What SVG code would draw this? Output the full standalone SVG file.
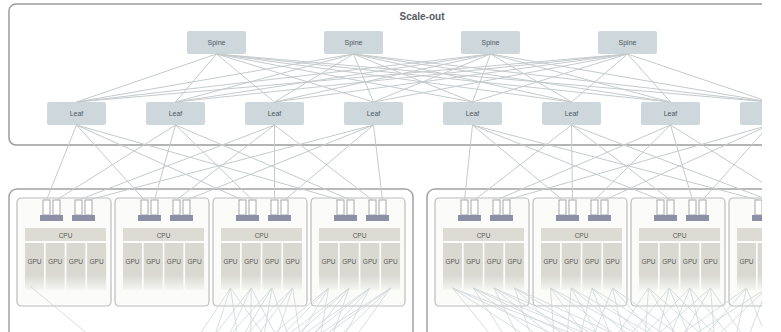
<svg xmlns="http://www.w3.org/2000/svg" width="781" height="332" viewBox="0 0 781 332">
<style>
.box{fill:#ffffff;stroke:#9c9c9c;stroke-width:1.5}
.pod{fill:#ffffff;stroke:#a2a2a2;stroke-width:1.5}
.srv{fill:#fbfbfa;stroke:#bdbdbd;stroke-width:1.2}
.sw{fill:#cdd7dc}
.swt{font-family:"Liberation Sans",Arial,sans-serif;font-size:7px;fill:#4e5a63;text-anchor:middle}
.title{font-family:"Liberation Sans",Arial,sans-serif;font-size:10px;font-weight:bold;fill:#555b5f;text-anchor:middle}
.nic{fill:#8e90a8}
.port{fill:#ffffff;stroke:#a8a8a8;stroke-width:1}
.cpu{fill:#dcdcd5}
.gpu{fill:url(#gfade)}
.t{font-family:"Liberation Sans",Arial,sans-serif;font-size:6.5px;fill:#5a5a55;text-anchor:middle}
.c line{stroke:#c5cacc;stroke-width:1}
.m line{stroke:#cfd6d8;stroke-width:0.8}
</style>
<defs>
<linearGradient id="gfade" x1="0" y1="0" x2="0" y2="1">
<stop offset="0" stop-color="#d9d9d2"/>
<stop offset="0.68" stop-color="#d9d9d2"/>
<stop offset="1" stop-color="#f5f5f2"/>
</linearGradient>
<clipPath id="crop"><rect x="0" y="0" width="762" height="332"/></clipPath>
</defs>
<rect x="0" y="0" width="781" height="332" fill="#ffffff"/>
<g clip-path="url(#crop)">
<g id="scale-out">
<rect class="box" x="9" y="4" width="830" height="141" rx="7"/>
<text class="title" x="422" y="19.5">Scale-out</text>
</g>
<g id="pod-left"><rect class="pod" x="9" y="189" width="404" height="160" rx="8"/></g>
<g id="pod-right"><rect class="pod" x="427" y="189" width="404" height="160" rx="8"/></g>

<g id="spine1"><rect class="sw" x="187" y="31" width="59" height="23" rx="2"/><text class="swt" x="216.5" y="45">Spine</text></g>
<g id="spine2"><rect class="sw" x="324" y="31" width="59" height="23" rx="2"/><text class="swt" x="353.5" y="45">Spine</text></g>
<g id="spine3"><rect class="sw" x="461" y="31" width="59" height="23" rx="2"/><text class="swt" x="490.5" y="45">Spine</text></g>
<g id="spine4"><rect class="sw" x="598" y="31" width="59" height="23" rx="2"/><text class="swt" x="627.5" y="45">Spine</text></g>

<g id="leaf1"><rect class="sw" x="47" y="102" width="59" height="23" rx="2"/><text class="swt" x="76.5" y="116">Leaf</text></g>
<g id="leaf2"><rect class="sw" x="146" y="102" width="59" height="23" rx="2"/><text class="swt" x="175.5" y="116">Leaf</text></g>
<g id="leaf3"><rect class="sw" x="245" y="102" width="59" height="23" rx="2"/><text class="swt" x="274.5" y="116">Leaf</text></g>
<g id="leaf4"><rect class="sw" x="344" y="102" width="59" height="23" rx="2"/><text class="swt" x="373.5" y="116">Leaf</text></g>
<g id="leaf5"><rect class="sw" x="443" y="102" width="59" height="23" rx="2"/><text class="swt" x="472.5" y="116">Leaf</text></g>
<g id="leaf6"><rect class="sw" x="542" y="102" width="59" height="23" rx="2"/><text class="swt" x="571.5" y="116">Leaf</text></g>
<g id="leaf7"><rect class="sw" x="641" y="102" width="59" height="23" rx="2"/><text class="swt" x="670.5" y="116">Leaf</text></g>
<g id="leaf8"><rect class="sw" x="740" y="102" width="59" height="23" rx="2"/></g>

<g id="server-L1" transform="translate(17,198)">
<rect class="srv" x="0" y="0" width="94" height="108" rx="4"/>
<rect class="port" x="26" y="2" width="7" height="15"/><rect class="port" x="36" y="2" width="7" height="15"/><rect class="nic" x="23" y="17" width="23" height="6"/>
<rect class="port" x="58" y="2" width="7" height="15"/><rect class="port" x="68" y="2" width="7" height="15"/><rect class="nic" x="55" y="17" width="23" height="6"/>
<rect class="cpu" x="8" y="30" width="81" height="13"/><text class="t" x="48.5" y="39.5">CPU</text>
<rect class="gpu" x="8" y="45" width="19" height="47"/><rect class="gpu" x="28.7" y="45" width="19" height="47"/><rect class="gpu" x="49.4" y="45" width="19" height="47"/><rect class="gpu" x="70.1" y="45" width="19" height="47"/>
<text class="t" x="17.5" y="66">GPU</text><text class="t" x="38.2" y="66">GPU</text><text class="t" x="58.9" y="66">GPU</text><text class="t" x="79.6" y="66">GPU</text>
</g>
<g id="server-L2" transform="translate(115,198)">
<rect class="srv" x="0" y="0" width="94" height="108" rx="4"/>
<rect class="port" x="26" y="2" width="7" height="15"/><rect class="port" x="36" y="2" width="7" height="15"/><rect class="nic" x="23" y="17" width="23" height="6"/>
<rect class="port" x="58" y="2" width="7" height="15"/><rect class="port" x="68" y="2" width="7" height="15"/><rect class="nic" x="55" y="17" width="23" height="6"/>
<rect class="cpu" x="8" y="30" width="81" height="13"/><text class="t" x="48.5" y="39.5">CPU</text>
<rect class="gpu" x="8" y="45" width="19" height="47"/><rect class="gpu" x="28.7" y="45" width="19" height="47"/><rect class="gpu" x="49.4" y="45" width="19" height="47"/><rect class="gpu" x="70.1" y="45" width="19" height="47"/>
<text class="t" x="17.5" y="66">GPU</text><text class="t" x="38.2" y="66">GPU</text><text class="t" x="58.9" y="66">GPU</text><text class="t" x="79.6" y="66">GPU</text>
</g>
<g id="server-L3" transform="translate(213,198)">
<rect class="srv" x="0" y="0" width="94" height="108" rx="4"/>
<rect class="port" x="26" y="2" width="7" height="15"/><rect class="port" x="36" y="2" width="7" height="15"/><rect class="nic" x="23" y="17" width="23" height="6"/>
<rect class="port" x="58" y="2" width="7" height="15"/><rect class="port" x="68" y="2" width="7" height="15"/><rect class="nic" x="55" y="17" width="23" height="6"/>
<rect class="cpu" x="8" y="30" width="81" height="13"/><text class="t" x="48.5" y="39.5">CPU</text>
<rect class="gpu" x="8" y="45" width="19" height="47"/><rect class="gpu" x="28.7" y="45" width="19" height="47"/><rect class="gpu" x="49.4" y="45" width="19" height="47"/><rect class="gpu" x="70.1" y="45" width="19" height="47"/>
<text class="t" x="17.5" y="66">GPU</text><text class="t" x="38.2" y="66">GPU</text><text class="t" x="58.9" y="66">GPU</text><text class="t" x="79.6" y="66">GPU</text>
</g>
<g id="server-L4" transform="translate(311,198)">
<rect class="srv" x="0" y="0" width="94" height="108" rx="4"/>
<rect class="port" x="26" y="2" width="7" height="15"/><rect class="port" x="36" y="2" width="7" height="15"/><rect class="nic" x="23" y="17" width="23" height="6"/>
<rect class="port" x="58" y="2" width="7" height="15"/><rect class="port" x="68" y="2" width="7" height="15"/><rect class="nic" x="55" y="17" width="23" height="6"/>
<rect class="cpu" x="8" y="30" width="81" height="13"/><text class="t" x="48.5" y="39.5">CPU</text>
<rect class="gpu" x="8" y="45" width="19" height="47"/><rect class="gpu" x="28.7" y="45" width="19" height="47"/><rect class="gpu" x="49.4" y="45" width="19" height="47"/><rect class="gpu" x="70.1" y="45" width="19" height="47"/>
<text class="t" x="17.5" y="66">GPU</text><text class="t" x="38.2" y="66">GPU</text><text class="t" x="58.9" y="66">GPU</text><text class="t" x="79.6" y="66">GPU</text>
</g>
<g id="server-R1" transform="translate(435,198)">
<rect class="srv" x="0" y="0" width="94" height="108" rx="4"/>
<rect class="port" x="26" y="2" width="7" height="15"/><rect class="port" x="36" y="2" width="7" height="15"/><rect class="nic" x="23" y="17" width="23" height="6"/>
<rect class="port" x="58" y="2" width="7" height="15"/><rect class="port" x="68" y="2" width="7" height="15"/><rect class="nic" x="55" y="17" width="23" height="6"/>
<rect class="cpu" x="8" y="30" width="81" height="13"/><text class="t" x="48.5" y="39.5">CPU</text>
<rect class="gpu" x="8" y="45" width="19" height="47"/><rect class="gpu" x="28.7" y="45" width="19" height="47"/><rect class="gpu" x="49.4" y="45" width="19" height="47"/><rect class="gpu" x="70.1" y="45" width="19" height="47"/>
<text class="t" x="17.5" y="66">GPU</text><text class="t" x="38.2" y="66">GPU</text><text class="t" x="58.9" y="66">GPU</text><text class="t" x="79.6" y="66">GPU</text>
</g>
<g id="server-R2" transform="translate(533,198)">
<rect class="srv" x="0" y="0" width="94" height="108" rx="4"/>
<rect class="port" x="26" y="2" width="7" height="15"/><rect class="port" x="36" y="2" width="7" height="15"/><rect class="nic" x="23" y="17" width="23" height="6"/>
<rect class="port" x="58" y="2" width="7" height="15"/><rect class="port" x="68" y="2" width="7" height="15"/><rect class="nic" x="55" y="17" width="23" height="6"/>
<rect class="cpu" x="8" y="30" width="81" height="13"/><text class="t" x="48.5" y="39.5">CPU</text>
<rect class="gpu" x="8" y="45" width="19" height="47"/><rect class="gpu" x="28.7" y="45" width="19" height="47"/><rect class="gpu" x="49.4" y="45" width="19" height="47"/><rect class="gpu" x="70.1" y="45" width="19" height="47"/>
<text class="t" x="17.5" y="66">GPU</text><text class="t" x="38.2" y="66">GPU</text><text class="t" x="58.9" y="66">GPU</text><text class="t" x="79.6" y="66">GPU</text>
</g>
<g id="server-R3" transform="translate(631,198)">
<rect class="srv" x="0" y="0" width="94" height="108" rx="4"/>
<rect class="port" x="26" y="2" width="7" height="15"/><rect class="port" x="36" y="2" width="7" height="15"/><rect class="nic" x="23" y="17" width="23" height="6"/>
<rect class="port" x="58" y="2" width="7" height="15"/><rect class="port" x="68" y="2" width="7" height="15"/><rect class="nic" x="55" y="17" width="23" height="6"/>
<rect class="cpu" x="8" y="30" width="81" height="13"/><text class="t" x="48.5" y="39.5">CPU</text>
<rect class="gpu" x="8" y="45" width="19" height="47"/><rect class="gpu" x="28.7" y="45" width="19" height="47"/><rect class="gpu" x="49.4" y="45" width="19" height="47"/><rect class="gpu" x="70.1" y="45" width="19" height="47"/>
<text class="t" x="17.5" y="66">GPU</text><text class="t" x="38.2" y="66">GPU</text><text class="t" x="58.9" y="66">GPU</text><text class="t" x="79.6" y="66">GPU</text>
</g>
<g id="server-R4" transform="translate(729,198)">
<rect class="srv" x="0" y="0" width="94" height="108" rx="4"/>
<rect class="port" x="26" y="2" width="7" height="15"/><rect class="port" x="36" y="2" width="7" height="15"/><rect class="nic" x="23" y="17" width="23" height="6"/>
<rect class="port" x="58" y="2" width="7" height="15"/><rect class="port" x="68" y="2" width="7" height="15"/><rect class="nic" x="55" y="17" width="23" height="6"/>
<rect class="cpu" x="8" y="30" width="81" height="13"/>
<rect class="gpu" x="8" y="45" width="19" height="47"/><rect class="gpu" x="28.7" y="45" width="19" height="47"/><rect class="gpu" x="49.4" y="45" width="19" height="47"/><rect class="gpu" x="70.1" y="45" width="19" height="47"/>
<text class="t" x="17.5" y="66">GPU</text>
</g>

<g id="connectors">
<g class="c">
<line x1="216.5" y1="54" x2="76.5" y2="102"/><line x1="216.5" y1="54" x2="175.5" y2="102"/><line x1="216.5" y1="54" x2="274.5" y2="102"/><line x1="216.5" y1="54" x2="373.5" y2="102"/><line x1="216.5" y1="54" x2="472.5" y2="102"/><line x1="216.5" y1="54" x2="571.5" y2="102"/><line x1="216.5" y1="54" x2="670.5" y2="102"/><line x1="216.5" y1="54" x2="769.5" y2="102"/>
<line x1="353.5" y1="54" x2="76.5" y2="102"/><line x1="353.5" y1="54" x2="175.5" y2="102"/><line x1="353.5" y1="54" x2="274.5" y2="102"/><line x1="353.5" y1="54" x2="373.5" y2="102"/><line x1="353.5" y1="54" x2="472.5" y2="102"/><line x1="353.5" y1="54" x2="571.5" y2="102"/><line x1="353.5" y1="54" x2="670.5" y2="102"/><line x1="353.5" y1="54" x2="769.5" y2="102"/>
<line x1="490.5" y1="54" x2="76.5" y2="102"/><line x1="490.5" y1="54" x2="175.5" y2="102"/><line x1="490.5" y1="54" x2="274.5" y2="102"/><line x1="490.5" y1="54" x2="373.5" y2="102"/><line x1="490.5" y1="54" x2="472.5" y2="102"/><line x1="490.5" y1="54" x2="571.5" y2="102"/><line x1="490.5" y1="54" x2="670.5" y2="102"/><line x1="490.5" y1="54" x2="769.5" y2="102"/>
<line x1="627.5" y1="54" x2="76.5" y2="102"/><line x1="627.5" y1="54" x2="175.5" y2="102"/><line x1="627.5" y1="54" x2="274.5" y2="102"/><line x1="627.5" y1="54" x2="373.5" y2="102"/><line x1="627.5" y1="54" x2="472.5" y2="102"/><line x1="627.5" y1="54" x2="571.5" y2="102"/><line x1="627.5" y1="54" x2="670.5" y2="102"/><line x1="627.5" y1="54" x2="769.5" y2="102"/>

<line x1="76.5" y1="125" x2="46.5" y2="200"/><line x1="76.5" y1="125" x2="144.5" y2="200"/><line x1="76.5" y1="125" x2="242.5" y2="200"/><line x1="76.5" y1="125" x2="340.5" y2="200"/>
<line x1="175.5" y1="125" x2="56.5" y2="200"/><line x1="175.5" y1="125" x2="154.5" y2="200"/><line x1="175.5" y1="125" x2="252.5" y2="200"/><line x1="175.5" y1="125" x2="350.5" y2="200"/>
<line x1="274.5" y1="125" x2="78.5" y2="200"/><line x1="274.5" y1="125" x2="176.5" y2="200"/><line x1="274.5" y1="125" x2="274.5" y2="200"/><line x1="274.5" y1="125" x2="372.5" y2="200"/>
<line x1="373.5" y1="125" x2="88.5" y2="200"/><line x1="373.5" y1="125" x2="186.5" y2="200"/><line x1="373.5" y1="125" x2="284.5" y2="200"/><line x1="373.5" y1="125" x2="382.5" y2="200"/>
<line x1="472.5" y1="125" x2="464.5" y2="200"/><line x1="472.5" y1="125" x2="562.5" y2="200"/><line x1="472.5" y1="125" x2="660.5" y2="200"/><line x1="472.5" y1="125" x2="758.5" y2="200"/>
<line x1="571.5" y1="125" x2="474.5" y2="200"/><line x1="571.5" y1="125" x2="572.5" y2="200"/><line x1="571.5" y1="125" x2="670.5" y2="200"/><line x1="571.5" y1="125" x2="768.5" y2="200"/>
<line x1="670.5" y1="125" x2="496.5" y2="200"/><line x1="670.5" y1="125" x2="594.5" y2="200"/><line x1="670.5" y1="125" x2="692.5" y2="200"/><line x1="670.5" y1="125" x2="790.5" y2="200"/>
<line x1="769.5" y1="125" x2="506.5" y2="200"/><line x1="769.5" y1="125" x2="604.5" y2="200"/><line x1="769.5" y1="125" x2="702.5" y2="200"/><line x1="769.5" y1="125" x2="800.5" y2="200"/>
</g>
<g class="m">
<line x1="30" y1="286" x2="143" y2="380"/>
<line x1="230.5" y1="288" x2="110" y2="470"/><line x1="230.5" y1="288" x2="180" y2="440"/><line x1="230.5" y1="288" x2="250" y2="420"/><line x1="230.5" y1="288" x2="310" y2="400"/>
<line x1="251.2" y1="288" x2="110" y2="470"/><line x1="251.2" y1="288" x2="180" y2="440"/><line x1="251.2" y1="288" x2="250" y2="420"/><line x1="251.2" y1="288" x2="310" y2="400"/>
<line x1="271.9" y1="288" x2="110" y2="470"/><line x1="271.9" y1="288" x2="180" y2="440"/><line x1="271.9" y1="288" x2="250" y2="420"/><line x1="271.9" y1="288" x2="310" y2="400"/>
<line x1="292.6" y1="288" x2="110" y2="470"/><line x1="292.6" y1="288" x2="180" y2="440"/><line x1="292.6" y1="288" x2="250" y2="420"/><line x1="292.6" y1="288" x2="310" y2="400"/>
<line x1="328.5" y1="288" x2="110" y2="470"/><line x1="328.5" y1="288" x2="180" y2="440"/><line x1="328.5" y1="288" x2="250" y2="420"/><line x1="328.5" y1="288" x2="310" y2="400"/>
<line x1="349.2" y1="288" x2="110" y2="470"/><line x1="349.2" y1="288" x2="180" y2="440"/><line x1="349.2" y1="288" x2="250" y2="420"/><line x1="349.2" y1="288" x2="310" y2="400"/>
<line x1="369.9" y1="288" x2="110" y2="470"/><line x1="369.9" y1="288" x2="180" y2="440"/><line x1="369.9" y1="288" x2="250" y2="420"/><line x1="369.9" y1="288" x2="310" y2="400"/>
<line x1="390.6" y1="288" x2="110" y2="470"/><line x1="390.6" y1="288" x2="180" y2="440"/><line x1="390.6" y1="288" x2="250" y2="420"/><line x1="390.6" y1="288" x2="310" y2="400"/>

<line x1="452.5" y1="288" x2="560" y2="420"/><line x1="452.5" y1="288" x2="640" y2="410"/><line x1="452.5" y1="288" x2="720" y2="410"/><line x1="452.5" y1="288" x2="800" y2="420"/>
<line x1="473.2" y1="288" x2="560" y2="420"/><line x1="473.2" y1="288" x2="640" y2="410"/><line x1="473.2" y1="288" x2="720" y2="410"/><line x1="473.2" y1="288" x2="800" y2="420"/>
<line x1="493.9" y1="288" x2="560" y2="420"/><line x1="493.9" y1="288" x2="640" y2="410"/><line x1="493.9" y1="288" x2="720" y2="410"/><line x1="493.9" y1="288" x2="800" y2="420"/>
<line x1="514.6" y1="288" x2="560" y2="420"/><line x1="514.6" y1="288" x2="640" y2="410"/><line x1="514.6" y1="288" x2="720" y2="410"/><line x1="514.6" y1="288" x2="800" y2="420"/>
<line x1="550.5" y1="288" x2="560" y2="420"/><line x1="550.5" y1="288" x2="640" y2="410"/><line x1="550.5" y1="288" x2="720" y2="410"/><line x1="550.5" y1="288" x2="800" y2="420"/>
<line x1="571.2" y1="288" x2="560" y2="420"/><line x1="571.2" y1="288" x2="640" y2="410"/><line x1="571.2" y1="288" x2="720" y2="410"/><line x1="571.2" y1="288" x2="800" y2="420"/>
<line x1="591.9" y1="288" x2="560" y2="420"/><line x1="591.9" y1="288" x2="640" y2="410"/><line x1="591.9" y1="288" x2="720" y2="410"/><line x1="591.9" y1="288" x2="800" y2="420"/>
<line x1="612.6" y1="288" x2="560" y2="420"/><line x1="612.6" y1="288" x2="640" y2="410"/><line x1="612.6" y1="288" x2="720" y2="410"/><line x1="612.6" y1="288" x2="800" y2="420"/>
<line x1="648.5" y1="288" x2="560" y2="420"/><line x1="648.5" y1="288" x2="640" y2="410"/><line x1="648.5" y1="288" x2="720" y2="410"/><line x1="648.5" y1="288" x2="800" y2="420"/>
<line x1="669.2" y1="288" x2="560" y2="420"/><line x1="669.2" y1="288" x2="640" y2="410"/><line x1="669.2" y1="288" x2="720" y2="410"/><line x1="669.2" y1="288" x2="800" y2="420"/>
<line x1="689.9" y1="288" x2="560" y2="420"/><line x1="689.9" y1="288" x2="640" y2="410"/><line x1="689.9" y1="288" x2="720" y2="410"/><line x1="689.9" y1="288" x2="800" y2="420"/>
<line x1="710.6" y1="288" x2="560" y2="420"/><line x1="710.6" y1="288" x2="640" y2="410"/><line x1="710.6" y1="288" x2="720" y2="410"/><line x1="710.6" y1="288" x2="800" y2="420"/>
<line x1="746.5" y1="288" x2="560" y2="420"/><line x1="746.5" y1="288" x2="640" y2="410"/><line x1="746.5" y1="288" x2="720" y2="410"/><line x1="746.5" y1="288" x2="800" y2="420"/>
<line x1="767.2" y1="288" x2="560" y2="420"/><line x1="767.2" y1="288" x2="640" y2="410"/><line x1="767.2" y1="288" x2="720" y2="410"/><line x1="767.2" y1="288" x2="800" y2="420"/>
</g>
</g>
</g>
</svg>
